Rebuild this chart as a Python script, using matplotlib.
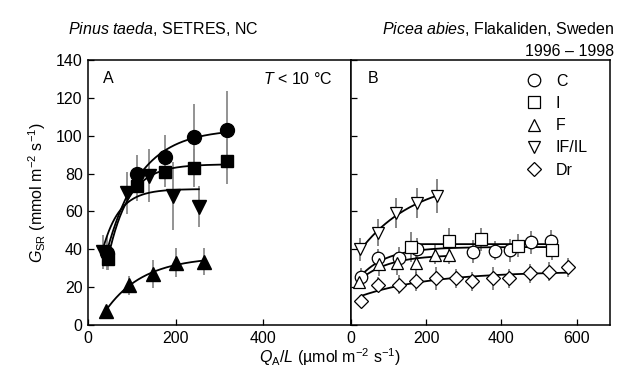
import numpy as np
import matplotlib
matplotlib.use('Agg')
import matplotlib.pyplot as plt
from matplotlib.lines import Line2D

plt.rcParams['font.family'] = ['Liberation Sans', 'DejaVu Sans']
plt.rcParams['font.size'] = 11.5
plt.rcParams['mathtext.fontset'] = 'custom'
plt.rcParams['mathtext.rm'] = 'Liberation Sans'
plt.rcParams['mathtext.it'] = 'Liberation Sans:italic'

# panel A - Pinus taeda (filled symbols)
a_c_x = [42, 112, 175, 243, 318]
a_c_y = [38, 80, 88.5, 99.5, 102.8]
a_c_e = [9, 10, 12, 17, 21]
a_s_x = [45, 111, 176, 242, 318]
a_s_y = [35, 73.5, 81, 83, 86.4]
a_s_e = [6, 8, 8, 10, 12]
a_t_x = [40, 94, 147, 201, 265]
a_t_y = [7.6, 21, 27, 33, 33.5]
a_t_e = [2, 5, 7.5, 7.5, 7]
a_it_x = [34, 89, 138, 194, 253]
a_it_y = [38.8, 69.7, 78.8, 68, 62.6]
a_it_e = [9, 11, 14, 18, 11]

# panel B - Picea abies (open symbols)
b_c_x = [25, 70, 126, 176, 325, 382, 424, 478, 533]
b_c_y = [25.2, 35.3, 35.3, 40, 38.8, 39.2, 39.5, 43.6, 44.4]
b_c_e = [5, 5, 6, 6, 6, 5, 6, 6, 6]
b_s_x = [159, 261, 346, 445, 534]
b_s_y = [41.1, 44.3, 45.2, 42, 39.4]
b_s_e = [8, 7, 6, 6, 5]
b_t_x = [20, 73, 122, 173, 224, 259]
b_t_y = [22.9, 32, 32.5, 33, 37.2, 37.2]
b_t_e = [4, 6, 6, 6, 5, 5]
b_it_x = [24, 72, 120, 176, 229]
b_it_y = [40, 48.8, 59, 64.4, 68]
b_it_e = [6, 7, 8, 8, 9]
b_d_x = [25, 72, 126, 173, 225, 280, 321, 377, 419, 476, 526, 577]
b_d_y = [12.9, 21.2, 21.2, 23, 24.7, 24.7, 23, 24.7, 24.7, 27.3, 28.2, 30.5]
b_d_e = [3, 4, 5, 5, 6, 5, 5, 6, 5, 5, 5, 5]

labels = ['C', 'I', 'F', 'IF/IL', 'Dr']


def fit_curve(x, y, kmin=5):
    # y = a + b*exp(-x/k), grid over k, least squares for a, b
    x = np.asarray(x, float)
    y = np.asarray(y, float)
    best = None
    for k in np.linspace(kmin, 600, 600):
        A = np.column_stack([np.ones_like(x), np.exp(-x / k)])
        coef, *_ = np.linalg.lstsq(A, y, rcond=None)
        if coef[1] > 0:
            continue
        err = np.sum((A @ coef - y) ** 2)
        if best is None or err < best[0]:
            best = (err, coef, k)
    xs = np.linspace(x[0], x[-1], 200)
    if best is None:
        return xs, np.full_like(xs, y.mean())
    _, (a, b), k = best
    return xs, a + b * np.exp(-xs / k)


W, H = 618, 382
fig = plt.figure(figsize=(W / 100, H / 100), dpi=100)
ax1 = fig.add_axes([88.3 / W, 57 / H, 263 / W, 265 / H])
ax2 = fig.add_axes([351.3 / W, 57 / H, 259 / W, 265 / H])

sets_a = [(a_c_x, a_c_y, a_c_e, 'o'), (a_s_x, a_s_y, a_s_e, 's'),
          (a_t_x, a_t_y, a_t_e, '^'), (a_it_x, a_it_y, a_it_e, 'v')]
for x, y, e, m in sets_a:
    ax1.errorbar(x, y, yerr=e, fmt='none', ecolor='#8a8a8a', elinewidth=1.3, zorder=1)
    xs, ys = fit_curve(x, y, kmin=38)
    ax1.plot(xs, ys, color='black', lw=1.3, zorder=2)
    ms = 10 if m == 'o' else 10
    if m == 's':
        ms = 9
    ax1.plot(x, y, ls='none', marker=m, ms=ms, mfc='black', mec='black', zorder=3)

sets_b = [(b_c_x, b_c_y, b_c_e, 'o'), (b_s_x, b_s_y, b_s_e, 's'),
          (b_t_x, b_t_y, b_t_e, '^'), (b_it_x, b_it_y, b_it_e, 'v'),
          (b_d_x, b_d_y, b_d_e, 'D')]
handles = []
for (x, y, e, m), lab in zip(sets_b, labels):
    ax2.errorbar(x, y, yerr=e, fmt='none', ecolor='#666666', elinewidth=1.1, zorder=1)
    xs, ys = fit_curve(x, y)
    ax2.plot(xs, ys, color='black', lw=1.3, zorder=2)
    ms = 7 if m == 'D' else 9
    if m == 's':
        ms = 8
    ax2.plot(x, y, ls='none', marker=m, ms=ms, mfc='white', mec='black', mew=0.9, zorder=3)
    handles.append(Line2D([], [], ls='none', marker=m, ms=ms, mfc='white', mec='black', mew=0.9, label=lab))

ax1.set_xlim(0, 602)
ax2.set_xlim(0, 690)
for ax in (ax1, ax2):
    ax.set_ylim(0, 140)
    ax.set_yticks(range(0, 141, 20))
    ax.tick_params(direction='in', length=4, width=0.9, pad=4)
    for s in ax.spines.values():
        s.set_linewidth(1.1)
ax1.set_xticks([0, 200, 400])
ax2.set_xticks([0, 200, 400, 600])
ax2.tick_params(labelleft=False)

ax1.set_ylabel(r'$\it{G}_{\rm SR}$ (mmol m$^{-2}$ s$^{-1}$)', labelpad=6)
fig.text(330 / W, 1 - 357 / H, r'$\it{Q}_{\rm A}/\it{L}$ (µmol m$^{-2}$ s$^{-1}$)', ha='center', va='center')

ax1.text(0.055, 0.93, 'A', transform=ax1.transAxes, ha='left', va='center')
ax1.text(0.93, 0.93, r'$\it{T}$ < 10 °C', transform=ax1.transAxes, ha='right', va='center')
ax2.text(0.065, 0.93, 'B', transform=ax2.transAxes, ha='left', va='center')

fig.text(163 / W, 1 - 29 / H, r'$\it{Pinus\ taeda}$, SETRES, NC', ha='center', va='center')
fig.text(614 / W, 1 - 29 / H, r'$\it{Picea\ abies}$, Flakaliden, Sweden', ha='right', va='center')
fig.text(614 / W, 1 - 52 / H, '1996 – 1998', ha='right', va='center')

ax2.legend(handles=handles, loc='upper left', bbox_to_anchor=(0.63, 0.99), frameon=False,
           handlelength=1.0, handletextpad=0.9, labelspacing=0.45, borderpad=0.2)

fig.savefig('out.png', dpi=100)
